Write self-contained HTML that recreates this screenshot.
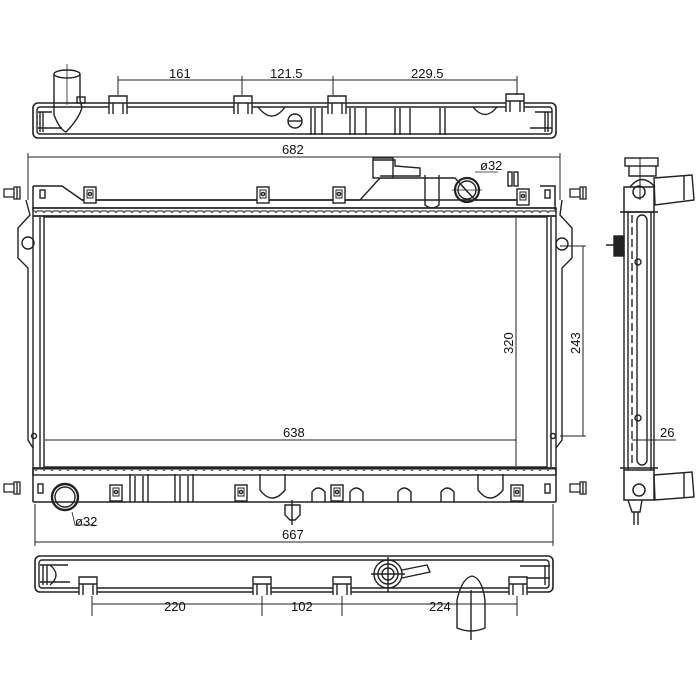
<!DOCTYPE html>
<html><head><meta charset="utf-8"><style>
html,body{margin:0;padding:0;background:#fff;}
svg{display:block;}
text{font-family:"Liberation Sans",sans-serif;font-size:13px;fill:#111;}
</style></head><body>
<svg width="700" height="700" viewBox="0 0 700 700" xmlns="http://www.w3.org/2000/svg">
<defs>
<pattern id="serr" x="0" y="0" width="8" height="6" patternUnits="userSpaceOnUse">
<path d="M0 1 H3 Q4 4 5 1 H8" fill="none" stroke="#222" stroke-width="1"/>
</pattern>
<g id="clip">
<rect x="-6" y="-8" width="12" height="16" fill="#fff" stroke="#222" stroke-width="1.4"/>
<rect x="-3" y="-5" width="6" height="8" fill="none" stroke="#222" stroke-width="1"/>
<circle cx="0" cy="-1" r="1.6" fill="none" stroke="#222"/>
</g>
<g id="tab">
<path d="M-9 10 V-8 H9 V10 M-9 -1 H9 M-5 10 V-1 M5 10 V-1" fill="#fff" stroke="#222" stroke-width="1.4"/>
</g>
<g id="bolt">
<path d="M0 -4 H10 V4 H0 Z M10 -6 V6 H16 V-6 Z M13 -6 V6" fill="#fff" stroke="#222" stroke-width="1.3"/>
</g>
</defs>
<g fill="none" stroke="#222" stroke-width="1.4">
<rect x="33" y="103" width="523" height="35" rx="5" stroke-width="1.6"/>
<rect x="37" y="107" width="515" height="27" rx="3"/>
<path d="M38 112 H52 M38 128 H62 M40 112 V132 M43 112 V132 M535 112 H552 M530 128 H552 M548 112 V132 M545 112 V132"/>
<path d="M54 74 V115 Q60 130 66 132 Q78 120 82 108 L80 100 V74"/>
<ellipse cx="67" cy="74" rx="13" ry="4"/>
<path d="M67 64 V105" stroke-width="0.8"/>
<rect x="77" y="97" width="8" height="6"/>
<path d="M258 107 Q272 125 285 107 M473 107 Q485 122 497 107"/>
<circle cx="295" cy="121" r="7"/><path d="M288 121 H302"/>
<path d="M311 108 V135 M315 108 V135 M322 108 V135 M350 108 V135 M355 108 V135 M366 108 V135 M395 108 V135 M400 108 V135 M410 108 V135 M440 108 V135 M445 108 V135"/>
<use href="#tab" x="118" y="104"/><use href="#tab" x="243" y="104"/><use href="#tab" x="337" y="104"/><use href="#tab" x="515" y="102"/>
<path d="M118 80 H517 M118 76 V95 M242 76 V95 M333 76 V95 M517 76 V95" stroke-width="1"/>
<path d="M28 157 H560 M28 153 V200 M560 153 V200" stroke-width="1"/>
<path d="M33 186 H62 L82 200 H520 M540 186 H555 V210 M33 186 V210" stroke-width="1.5"/>
<path d="M82 200 H360 L380 178 H455 L475 200 H520"/>
<rect x="373" y="158" width="20" height="20" fill="#fff"/>
<path d="M373 160 H395 V166 L420 168 V176 H380"/>
<path d="M425 175 V205 Q432 211 439 205 V175"/>
<circle cx="467" cy="190" r="12" stroke-width="2.2"/><circle cx="467" cy="190" r="9"/>
<path d="M452 190 H482 M475 172 H498" stroke-width="0.8"/>
<rect x="508" y="172" width="4" height="14"/><rect x="514" y="172" width="4" height="14"/>
<rect x="33" y="208" width="523" height="8" fill="url(#serr)"/>
<path d="M33 208 H556 M33 216 H556" stroke-width="1.4"/>
<use href="#clip" x="90" y="195"/><use href="#clip" x="263" y="195"/><use href="#clip" x="339" y="195"/><use href="#clip" x="523" y="197"/>
<rect x="40" y="190" width="5" height="8"/><rect x="545" y="190" width="5" height="8"/>
<rect x="44" y="217" width="503" height="250" stroke-width="1.4"/>
<path d="M40 217 V467 M551 217 V467 M33 216 V470 M556 216 V470" />
<path d="M26 200 L30 215 L18 228 V258 L28 268 V440 L33 448 M562 200 L560 215 L572 228 V258 L562 268 V440 L556 448"/>
<circle cx="28" cy="243" r="6"/><circle cx="562" cy="244" r="6"/>
<circle cx="34" cy="436" r="2.5"/><circle cx="553" cy="436" r="2.5"/>
<use href="#bolt" x="4" y="193"/><use href="#bolt" x="570" y="193"/><use href="#bolt" x="4" y="488"/><use href="#bolt" x="570" y="488"/>
<rect x="33" y="468" width="523" height="7" fill="url(#serr)"/>
<path d="M33 468 H556 M33 502 H556 M33 470 V502 M556 470 V502" stroke-width="1.5"/>
<circle cx="65" cy="497" r="13" stroke-width="2.4"/><circle cx="65" cy="497" r="10"/>
<path d="M72 512 L75 525 H95" stroke-width="0.8"/>
<path d="M130 474 V502 M135 476 V502 M143 476 V502 M148 474 V502 M175 474 V502 M180 476 V502 M188 476 V502 M193 474 V502"/>
<path d="M260 474 V490 Q272 506 285 490 V474 M478 474 V490 Q490 506 503 490 V474"/>
<path d="M312 502 V492 Q318 484 325 492 V502 M350 502 V492 Q356 484 363 492 V502 M398 502 V492 Q404 484 411 492 V502 M441 502 V492 Q447 484 454 492 V502"/>
<path d="M285 505 H300 V515 L295 520 H290 L285 515 Z M292 500 V525"/>
<use href="#clip" x="116" y="493"/><use href="#clip" x="241" y="493"/><use href="#clip" x="337" y="493"/><use href="#clip" x="517" y="493"/>
<rect x="38" y="484" width="5" height="9"/><rect x="545" y="484" width="5" height="9"/>
<path d="M45 440 H516 M516 218 V466 M560 246 H586 M560 436 H586 M583 246 V436" stroke-width="1"/>
<path d="M35 504 V546 M553 504 V546 M35 542 H553" stroke-width="1"/>
<rect x="35" y="556" width="518" height="36" rx="5" stroke-width="1.6"/>
<rect x="39" y="560" width="510" height="28" rx="3"/>
<path d="M40 565 H68 M40 582 H70 M43 565 V585 M47 565 V585 M520 566 H550 M520 578 H550 M545 565 V585"/>
<path d="M50 565 Q62 575 50 585"/>
<circle cx="388" cy="574" r="14"/><circle cx="388" cy="574" r="10"/><circle cx="388" cy="574" r="6"/>
<path d="M388 557 V592 M371 574 H405 M402 570 L427 565 L430 572 L402 578"/>
<path d="M457 600 Q462 578 472 576 Q482 578 485 600 V628 Q471 634 457 628 Z M471 590 V640"/>
<use href="#tab" x="88" y="585"/><use href="#tab" x="262" y="585"/><use href="#tab" x="342" y="585"/><use href="#tab" x="518" y="585"/>
<path d="M92 604 H517 M92 596 V616 M262 596 V616 M342 596 V616 M517 596 V616" stroke-width="1"/>
<rect x="625" y="158" width="33" height="8" fill="#fff"/>
<path d="M629 166 V176 H656 V166 M630 187 Q642 172 655 187"/>
<path d="M654 178 L692 175 L694 200 L655 205 Z M684 176 V200"/>
<rect x="624" y="187" width="30" height="25" stroke-width="1.5"/>
<circle cx="639" cy="192" r="6" stroke-width="1.5"/>
<path d="M624 212 V470 M654 212 V470 M628 212 V470 M651 212 V470 M620 212 H658 M620 468 H658"/>
<path d="M632 215 V465" stroke-dasharray="8,4"/>
<rect x="637" y="215" width="10" height="250" rx="5"/>
<circle cx="638" cy="262" r="3"/><circle cx="638" cy="418" r="3"/>
<rect x="614" y="236" width="10" height="20" fill="#222"/>
<path d="M606 245 H624" />
<rect x="624" y="470" width="30" height="30" stroke-width="1.5"/>
<circle cx="639" cy="490" r="6" stroke-width="1.5"/>
<path d="M654 475 L692 472 L694 497 L655 500 Z M684 473 V497"/>
<path d="M628 500 L632 512 H640 L642 500 M634 512 V525 M638 512 V525"/>
<path d="M632 440 H676 M640 158 V200" stroke-width="1"/>
</g>
<text x="169" y="78">161</text>
<text x="270" y="78">121.5</text>
<text x="411" y="78">229.5</text>
<text x="282" y="154">682</text>
<text x="480" y="170">ø32</text>
<text x="283" y="437">638</text>
<text x="75" y="526">ø32</text>
<text x="282" y="539">667</text>
<text x="164" y="611">220</text>
<text x="291" y="611">102</text>
<text x="429" y="611">224</text>
<text x="660" y="437">26</text>
<text x="0" y="0" transform="translate(513,354) rotate(-90)">320</text>
<text x="0" y="0" transform="translate(580,354) rotate(-90)">243</text>
</svg>
</body></html>
